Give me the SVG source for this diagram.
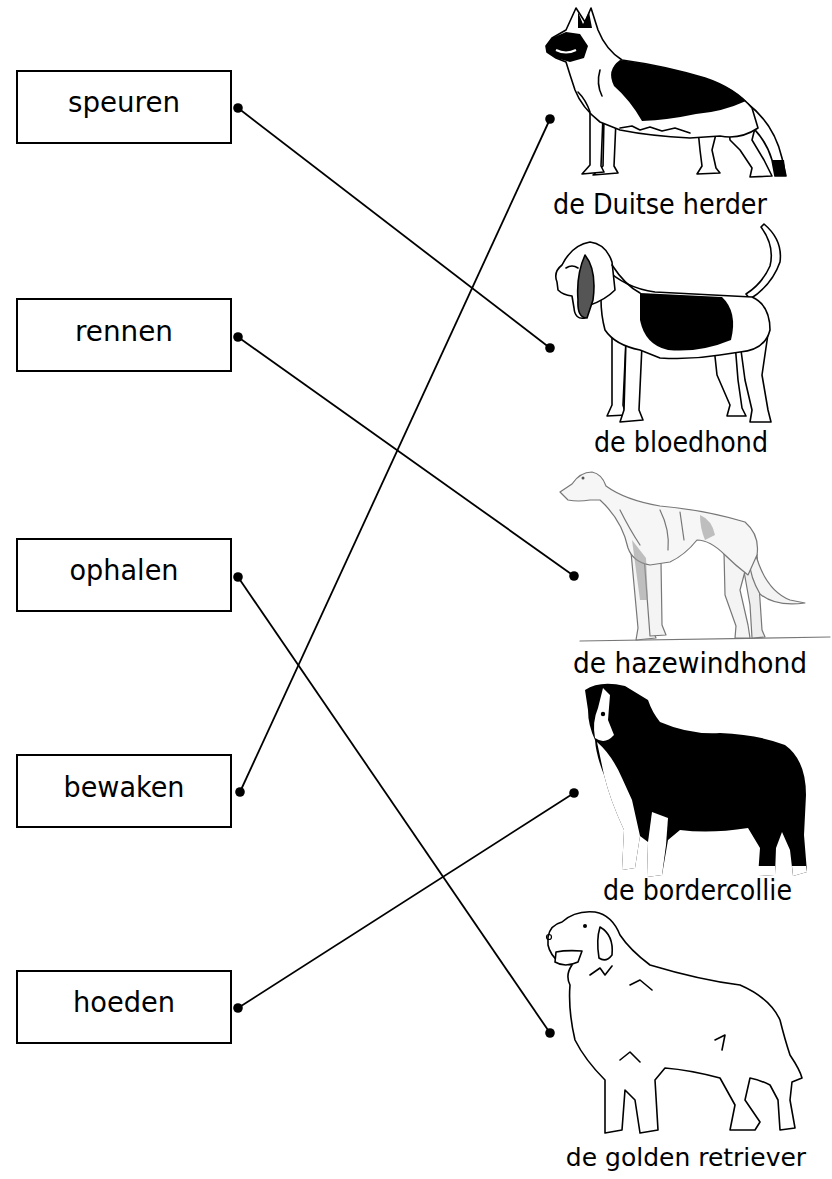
<svg xmlns="http://www.w3.org/2000/svg" width="832" height="1179" viewBox="0 0 832 1179">
<style>
.box{fill:#fff;stroke:#000;stroke-width:2}
.lbl{font-family:"DejaVu Sans","Verdana",sans-serif;font-size:29px;fill:#000;text-anchor:middle}
.con{stroke:#000;stroke-width:1.8;fill:none}
.dot{fill:#000}
.ln{stroke:#000;stroke-width:1.6;stroke-linejoin:round;stroke-linecap:round}
.lg{stroke:#777;stroke-width:1.2;stroke-linejoin:round;stroke-linecap:round}
</style>
<rect width="832" height="1179" fill="#fff"/>

<g id="speuren"><rect class="box" x="17" y="71" width="214" height="72"/><text class="lbl" x="124" y="112" textLength="112" lengthAdjust="spacingAndGlyphs">speuren</text></g>
<g id="rennen"><rect class="box" x="17" y="299" width="214" height="72"/><text class="lbl" x="124" y="341" textLength="98" lengthAdjust="spacingAndGlyphs">rennen</text></g>
<g id="ophalen"><rect class="box" x="17" y="539" width="214" height="72"/><text class="lbl" x="124" y="580" textLength="109" lengthAdjust="spacingAndGlyphs">ophalen</text></g>
<g id="bewaken"><rect class="box" x="17" y="755" width="214" height="72"/><text class="lbl" x="124" y="797" textLength="121" lengthAdjust="spacingAndGlyphs">bewaken</text></g>
<g id="hoeden"><rect class="box" x="17" y="971" width="214" height="72"/><text class="lbl" x="124" y="1012" textLength="102" lengthAdjust="spacingAndGlyphs">hoeden</text></g>

<g id="duitse-herder">
<path class="ln" fill="#fff" d="M604,118 L616,120 L614,166 L618,173 L593,175 L603,166 Z"/>
<path class="ln" fill="#fff" d="M590,112 L603,116 L601,166 L604,172 L582,174 L590,165 Z"/>
<path class="ln" fill="#fff" d="M698,130 L716,134 L712,150 L716,168 L720,173 L697,174 L702,166 L700,150 Z"/>
<path class="ln" fill="#fff" d="M728,118 L756,124 L752,140 L764,160 L772,176 L750,177 L752,168 L740,150 L730,140 Z"/>
<path class="ln" fill="#fff" d="M748,104 Q774,124 782,158 L786,176 L775,176 L772,160 Q765,136 744,120 Z"/>
<path d="M772,160 L784,160 L786,176 L775,176 Z" fill="#000"/>
<path class="ln" fill="#fff" d="M546,46 L552,38 L566,30 L576,8 L585,22 L591,8 L598,30 Q606,50 622,60 Q665,66 705,78 Q735,88 752,108 L758,128 Q740,140 720,136 L690,138 Q650,136 620,130 L600,122 Q582,108 575,90 Q570,75 566,62 L556,58 L547,52 Z"/>
<path fill="#000" d="M620,60 Q665,66 705,78 Q730,86 746,101 Q722,112 696,114 Q668,120 642,121 Q630,100 614,86 Q606,70 620,60 Z"/>
<path fill="#000" d="M546,46 L552,38 L566,32 L580,34 L588,46 L584,58 L570,62 L556,58 L547,52 Z"/>
<path fill="#000" d="M578,12 L583,24 L589,12 L592,28 L578,28 Z"/>
<path d="M556,50 Q566,55 576,50" stroke="#fff" stroke-width="2" fill="none"/>
<path class="ln" fill="none" d="M578,92 Q586,100 590,112 M600,70 Q596,84 602,96 M620,128 L632,126 L640,130 L650,127 L662,131 L675,128 L690,133"/>
<text class="lbl" x="660" y="214" textLength="214" lengthAdjust="spacingAndGlyphs">de Duitse herder</text>
</g>

<g id="bloedhond">
<path class="ln" fill="#fff" d="M612,335 L626,340 L623,405 L626,415 L607,416 L612,405 Z"/>
<path class="ln" fill="#fff" d="M626,340 L642,345 L639,410 L643,420 L620,422 L624,410 Z"/>
<path class="ln" fill="#fff" d="M713,338 L735,343 L738,380 L742,408 L746,416 L727,416 L730,405 L717,375 Z"/>
<path class="ln" fill="#fff" d="M738,328 L768,334 L762,375 L768,410 L771,422 L750,422 L752,410 L745,380 Z"/>
<path class="ln" fill="#fff" d="M750,299 Q772,285 780,262 Q783,240 764,224 L761,227 Q775,246 770,266 Q762,284 746,294 Z"/>
<path class="ln" fill="#fff" d="M605,268 Q625,288 655,292 L752,297 Q770,305 770,330 Q765,350 740,352 L720,355 Q690,360 660,358 L640,350 Q615,345 605,330 Q597,300 605,268 Z"/>
<path fill="#000" d="M640,293 L722,297 Q738,312 731,340 Q700,353 668,350 Q645,345 640,320 Z"/>
<path class="ln" fill="#fff" d="M557,282 Q553,272 562,265 Q572,245 590,242 Q606,244 612,262 L615,290 Q605,300 590,305 L585,318 Q575,320 574,308 L572,296 Q563,295 558,290 Z"/>
<path class="ln" fill="#555" d="M585,255 Q597,270 593,300 L587,318 Q577,318 578,300 Q576,275 585,255 Z"/>
<path class="ln" fill="none" d="M566,268 Q572,264 578,268 M612,265 Q625,285 640,293"/>
<text class="lbl" x="681" y="452" textLength="174" lengthAdjust="spacingAndGlyphs">de bloedhond</text>
</g>

<g id="hazewindhond">
<line class="lg" x1="580" y1="641" x2="830" y2="637"/>
<path class="lg" fill="#f4f4f4" d="M631,552 L648,560 L652,628 L656,638 L636,640 L638,628 Z"/>
<path class="lg" fill="#f4f4f4" d="M644,556 L661,562 L662,625 L666,635 L650,636 Z"/>
<path class="lg" fill="#eee" d="M742,560 L757,554 L760,600 L762,630 L765,637 L752,638 L750,605 Z"/>
<path class="lg" fill="#f4f4f4" d="M724,552 L748,560 L740,590 L748,625 L750,638 L735,638 L736,626 L725,595 Z"/>
<path class="lg" fill="#f4f4f4" d="M755,552 Q765,590 790,600 L805,603 Q775,607 760,594 Q749,575 750,560 Z"/>
<path class="lg" fill="#f6f6f6" d="M560,492 L572,484 Q580,472 592,472 Q602,474 606,486 Q625,500 660,506 Q705,510 745,522 Q760,535 757,555 L748,575 Q735,565 725,555 Q710,540 697,540 Q685,555 670,562 L650,565 Q633,562 628,548 Q622,520 600,500 L590,500 Q578,502 568,500 Z"/>
<path fill="#999" opacity="0.6" d="M700,515 Q712,520 715,535 L705,540 Q700,528 700,515 Z M632,540 L646,558 L648,600 L640,600 Z"/>
<path class="lg" fill="none" d="M620,510 Q630,530 640,545 M660,510 Q670,530 668,550 M680,512 L684,540"/>
<circle cx="583" cy="478" r="1.5" fill="#555"/>
<text class="lbl" x="690" y="673" textLength="234" lengthAdjust="spacingAndGlyphs">de hazewindhond</text>
</g>

<g id="bordercollie">
<path fill="#000" d="M585,690 Q600,680 625,686 L648,700 Q652,712 660,722 Q690,735 720,733 Q760,735 785,745 Q806,760 806,795 L804,835 L807,872 L793,876 L790,850 L782,832 L776,848 L775,875 L758,876 L760,848 L748,828 Q710,834 680,830 L668,840 L662,875 L647,877 L648,842 L640,836 L635,868 L622,870 L624,830 Q610,800 604,775 Q596,755 595,740 Q588,725 588,710 Z"/>
<path fill="#fff" d="M597,742 Q612,755 622,778 L632,800 L640,836 L635,868 L622,870 L624,830 Q610,800 604,775 Z"/>
<path fill="#fff" d="M652,812 L668,818 L666,845 L662,875 L647,877 L648,842 Z"/>
<path fill="#fff" d="M603,688 L610,695 L608,720 L614,735 Q605,745 595,738 Q592,722 598,708 Z"/>
<circle cx="603" cy="714" r="2.2" fill="#000"/>
<path d="M758,866 L775,866 L775,875 L758,876 Z M792,866 L806,866 L807,872 L793,876 Z" fill="#fff"/>
<text class="lbl" x="697.5" y="900" textLength="189" lengthAdjust="spacingAndGlyphs">de bordercollie</text>
</g>

<g id="golden-retriever">
<path class="ln" fill="#fff" d="M548,937 Q550,925 562,922 Q575,910 595,912 Q612,915 620,935 Q630,950 650,965 Q700,980 740,985 Q770,998 780,1020 Q785,1040 790,1055 Q800,1070 802,1078 L792,1082 L790,1100 L795,1128 L780,1130 L778,1100 L770,1085 Q760,1080 750,1078 L745,1100 L760,1122 L755,1130 L730,1130 L735,1105 L720,1078 Q690,1070 665,1068 L655,1080 L658,1130 L640,1133 L635,1100 L625,1090 L622,1130 L605,1133 L605,1080 Q585,1060 575,1040 Q568,1010 570,985 Q565,975 572,965 L560,963 Q550,955 548,945 Z"/>
<path class="ln" fill="none" d="M600,927 Q614,935 612,955 Q606,963 599,958 Q596,940 600,927 Z"/>
<path class="ln" fill="#fff" d="M556,952 Q566,950 582,951 L578,962 Q565,968 555,962 Z"/>
<circle cx="585" cy="926" r="2" fill="#000"/>
<circle cx="549" cy="937" r="2.5" fill="none" stroke="#000" stroke-width="1.2"/>
<path class="ln" fill="none" d="M590,975 L600,968 L605,975 L612,966 M630,985 L640,980 L652,990 M715,1040 L725,1035 L722,1050 M620,1060 L630,1052 L640,1062"/>
<text class="lbl" x="686" y="1166" style="font-size:25px">de golden retriever</text>
</g>

<g id="connectors">
<line class="con" x1="238" y1="108" x2="550" y2="348"/>
<line class="con" x1="238" y1="337" x2="574" y2="576"/>
<line class="con" x1="238" y1="577" x2="550" y2="1033"/>
<line class="con" x1="240" y1="792" x2="550" y2="119"/>
<line class="con" x1="238" y1="1008" x2="574" y2="793"/>
<circle class="dot" cx="238" cy="108" r="4.8"/><circle class="dot" cx="550" cy="348" r="4.8"/>
<circle class="dot" cx="238" cy="337" r="4.8"/><circle class="dot" cx="574" cy="576" r="4.8"/>
<circle class="dot" cx="238" cy="577" r="4.8"/><circle class="dot" cx="550" cy="1033" r="4.8"/>
<circle class="dot" cx="240" cy="792" r="4.8"/><circle class="dot" cx="550" cy="119" r="4.8"/>
<circle class="dot" cx="238" cy="1008" r="4.8"/><circle class="dot" cx="574" cy="793" r="4.8"/>
</g>
</svg>
